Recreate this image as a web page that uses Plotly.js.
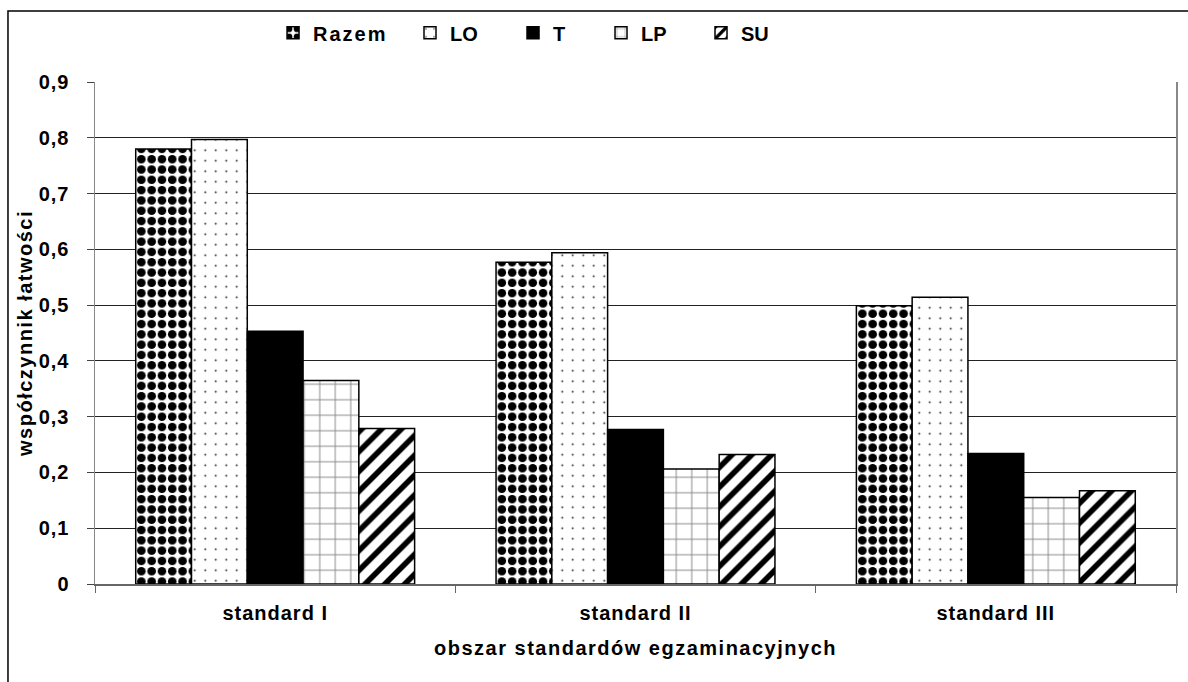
<!DOCTYPE html>
<html>
<head>
<meta charset="utf-8">
<script src="https://cdn.plot.ly/plotly-3.0.1.min.js"></script>
<style>
  html, body { margin: 0; padding: 0; background: #fff; }
  #chart { width: 1188px; height: 682px; }
  .xtick text, .ytick text { letter-spacing: 1px; }
  .xtitle, .ytitle { letter-spacing: 1.5px; }
  .legendtext { letter-spacing: 2px; }
</style>
</head>
<body>
<div id="chart"></div>
<script>
// ---- data ----
const categories = ['standard I', 'standard II', 'standard III'];
const seriesNames = ['Razem', 'LO', 'T', 'LP', 'SU'];
const razem = [0.780, 0.577, 0.499];
const lo    = [0.797, 0.594, 0.514];
const t     = [0.453, 0.277, 0.234];
const lp    = [0.365, 0.206, 0.155];
const su    = [0.279, 0.232, 0.167];
const yTickVals = [0, 0.1, 0.2, 0.3, 0.4, 0.5, 0.6, 0.7, 0.8, 0.9];
const yTickText = ['0', '0,1', '0,2', '0,3', '0,4', '0,5', '0,6', '0,7', '0,8', '0,9'];
const yTitle = 'współczynnik łatwości';
const xTitle = 'obszar standardów egzaminacyjnych';

const FONT = 'Liberation Sans, Arial, sans-serif';
const FS = 20;
const boldFont = { family: FONT, size: FS, color: '#000', weight: 'bold' };
const outline = { color: '#000', width: 1.5 };

const styles = [
  { color: '#fff', pattern: { shape: '.', fgcolor: '#000', bgcolor: '#fff', size: 10.3, solidity: 0.55, fillmode: 'replace' } },
  { color: '#fff', pattern: { shape: '.', fgcolor: '#222', bgcolor: '#fff', size: 10.5, solidity: 0.025, fillmode: 'replace' } },
  { color: '#000' },
  { color: '#fff', pattern: { shape: '+', fgcolor: '#888', bgcolor: '#fff', size: 15.5, solidity: 0.12, fillmode: 'replace' } },
  { color: '#fff', pattern: { shape: '/', fgcolor: '#000', bgcolor: '#fff', size: 14, solidity: 0.4, fillmode: 'replace' } }
];
const values = [razem, lo, t, lp, su];
// legend entry left positions (paper x) – layout only
const legendX = [0.1647, 0.2914, 0.3867, 0.4681, 0.5606];
const legendKeys = ['legend', 'legend2', 'legend3', 'legend4', 'legend5'];

const traces = seriesNames.map((name, i) => ({
  type: 'bar',
  name: name,
  x: categories,
  y: values[i],
  legend: legendKeys[i],
  marker: Object.assign({ line: outline }, styles[i]),
  hoverinfo: 'x+y+name'
}));

const layout = {
  width: 1188,
  height: 682,
  paper_bgcolor: '#fff',
  plot_bgcolor: '#fff',
  margin: { l: 95, r: 12, t: 82, b: 98, pad: 0 },
  barmode: 'group',
  bargap: 0.226,
  bargroupgap: 0,
  font: boldFont,
  showlegend: true,
  xaxis: {
    type: 'category',
    showgrid: false,
    showline: true,
    linecolor: '#666',
    linewidth: 2,
    ticks: 'outside',
    tickson: 'boundaries',
    ticklen: 7,
    tickcolor: '#666',
    tickwidth: 1,
    ticklabelstandoff: 10,
    tickfont: boldFont,
    title: { text: xTitle, font: boldFont, standoff: 18 },
    fixedrange: true
  },
  yaxis: {
    range: [0, 0.9],
    tickvals: yTickVals,
    ticktext: yTickText,
    showgrid: true,
    gridcolor: '#222',
    gridwidth: 1,
    showline: true,
    mirror: true,
    linecolor: '#888',
    linewidth: 1.5,
    ticks: 'outside',
    ticklen: 7,
    tickcolor: '#444',
    ticklabelstandoff: 13,
    zeroline: false,
    tickfont: boldFont,
    title: { text: yTitle, font: boldFont, standoff: 0 },
    fixedrange: true
  },
  shapes: [
    { type: 'rect', xref: 'paper', yref: 'paper', x0: -0.0805, x1: 1.02, y0: -0.25, y1: 1.1416,
      line: { color: '#000', width: 1.5 }, fillcolor: 'rgba(0,0,0,0)', layer: 'below' }
  ]
};

legendKeys.forEach((k, i) => {
  layout[k] = {
    orientation: 'h',
    x: legendX[i], xanchor: 'left',
    y: 1.098, yanchor: 'middle',
    font: boldFont,
    itemwidth: 30,
    bgcolor: 'rgba(0,0,0,0)',
    borderwidth: 0
  };
});

Plotly.newPlot('chart', traces, layout, { displayModeBar: false, staticPlot: true });
</script>
</body>
</html>
